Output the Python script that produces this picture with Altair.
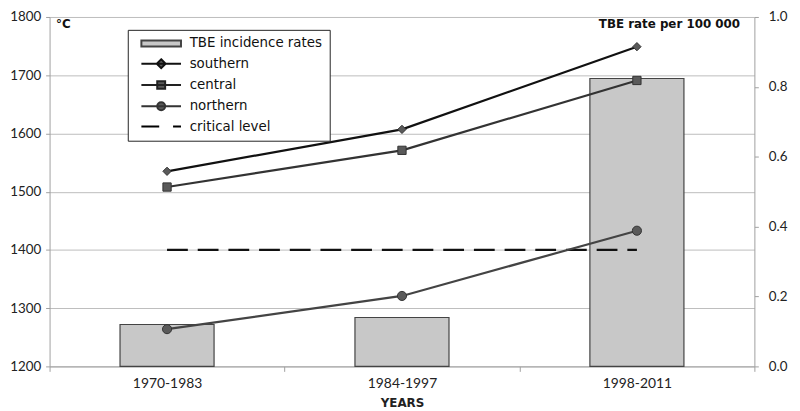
import altair as alt
import pandas as pd

periods = ["1970-1983", "1984-1997", "1998-2011"]
tbe_rate = [0.12, 0.14, 0.824]
southern = [1535, 1607, 1749]
central = [1508, 1571, 1691]
northern = [1264, 1321, 1433]
critical = [1400, 1400, 1400]
legend_items = ["TBE incidence rates", "southern", "central", "northern", "critical level"]
left_ticks = [1200, 1300, 1400, 1500, 1600, 1700, 1800]
right_ticks = [0.0, 0.2, 0.4, 0.6, 0.8, 1.0]

legend_paths = [
    "M-1,-0.6H7V0.6H-1Z",
    "M-1,0H7M3,-0.9L3.9,0L3,0.9L2.1,0Z",
    "M-1,0H7M2.2,-0.75H3.8V0.75H2.2Z",
    "M-1,0H7M3.8,0A0.8,0.8,0,1,1,2.2,0A0.8,0.8,0,1,1,3.8,0Z",
    "M-1,0H2.6M5.4,0H7",
]
legend_fills = ["#c8c8c8", "#5a5a5a", "#5a5a5a", "#5a5a5a", "#000000"]
legend_strokes = ["#444444", "#111111", "#222222", "#333333", "#000000"]

bars_df = pd.DataFrame({"period": periods, "rate": tbe_rate})
south_df = pd.DataFrame({"period": periods, "value": southern})
central_df = pd.DataFrame({"period": periods, "value": central})
north_df = pd.DataFrame({"period": periods, "value": northern})
crit_df = pd.DataFrame({"period": periods, "value": critical})
leg_df = pd.DataFrame({"item": legend_items, "period": [periods[0]] * 5, "value": [1400] * 5})

x_enc = alt.X(
    "period:N",
    sort=periods,
    scale=alt.Scale(paddingInner=0, paddingOuter=0),
    axis=alt.Axis(
        title="YEARS", labelAngle=0, tickBand="extent", labelFont="Lato", labelFontSize=14,
        labelColor="#222", titleFont="DejaVu Sans", titleFontSize=12, titleFontWeight="bold",
        titleColor="#222", tickSize=5, labelPadding=5, titlePadding=8, domainColor="#a0a0a0",
        tickColor="#a0a0a0", grid=False,
    ),
)

y_left = alt.Y(
    "value:Q",
    scale=alt.Scale(domain=[1200, 1800], nice=False, zero=False),
    axis=alt.Axis(
        orient="left", values=left_ticks, format="d", grid=True, gridColor="#bdbdbd",
        title="°C", titleAngle=0, titleX=6, titleY=7, titleAlign="left", titleBaseline="middle",
        titleFont="DejaVu Sans", titleFontSize=12, titleFontWeight="bold", titleColor="#111",
        labelFont="Lato", labelFontSize=13.5, labelColor="#222", tickSize=4, labelPadding=5,
        domainColor="#a0a0a0", tickColor="#a0a0a0",
    ),
)

bars = alt.Chart(bars_df).mark_bar(size=95, fill="#c8c8c8", stroke="#444444", strokeWidth=1.2).encode(
    x=x_enc,
    y=alt.Y(
        "rate:Q",
        scale=alt.Scale(domain=[0, 1], nice=False),
        axis=alt.Axis(
            orient="right", values=right_ticks, format=".1f", grid=False,
            title="TBE rate per 100 000", titleAngle=0, titleX=-15, titleY=7, titleAlign="right",
            titleBaseline="middle", titleFont="DejaVu Sans", titleFontSize=12, titleFontWeight="bold",
            titleColor="#111", labelFont="Lato", labelFontSize=13.5, labelColor="#222", tickSize=4,
            labelPadding=10, domainColor="#a0a0a0", tickColor="#a0a0a0",
        ),
    ),
)

crit = alt.Chart(crit_df).mark_line(color="#111111", strokeWidth=2.2, strokeDash=[21, 10]).encode(x=x_enc, y=y_left)


def series(df, color, shape, size):
    line = alt.Chart(df).mark_line(color=color, strokeWidth=2.2).encode(x=x_enc, y=y_left)
    pts = alt.Chart(df).mark_point(
        shape=shape, size=size, filled=True, fill="#5a5a5a", stroke="#333333", strokeWidth=1, opacity=1
    ).encode(x=x_enc, y=y_left)
    return [line, pts]


legend_layer = alt.Chart(leg_df).mark_point(filled=True, opacity=0, size=100, strokeWidth=2).encode(
    x=x_enc,
    y=y_left,
    shape=alt.Shape("item:N", sort=legend_items, scale=alt.Scale(domain=legend_items, range=legend_paths), title=None),
    fill=alt.Fill("item:N", sort=legend_items, scale=alt.Scale(domain=legend_items, range=legend_fills), title=None),
    stroke=alt.Stroke("item:N", sort=legend_items, scale=alt.Scale(domain=legend_items, range=legend_strokes), title=None),
)

lines = alt.layer(
    crit,
    *series(south_df, "#111111", "diamond", 70),
    *series(central_df, "#333333", "square", 70),
    *series(north_df, "#444444", "circle", 85),
    legend_layer,
)

chart = alt.layer(bars, lines).resolve_scale(y="independent").properties(
    width=712,
    height=353,
    padding={"left": 42, "top": 7, "right": 38, "bottom": 45},
    autosize=alt.AutoSizeParams(type="none"),
).configure_view(stroke=None).configure_legend(
    orient="none", legendX=79, legendY=13, strokeColor="#222", fillColor="white", padding=7,
    symbolOffset=5, symbolSize=100, symbolOpacity=1, symbolStrokeColor="#222", symbolStrokeWidth=2,
    labelOffset=37, labelFont="DejaVu Sans", labelFontSize=13.5, labelColor="#111", rowPadding=4.5,
    cornerRadius=0,
)

chart.save("out.html", embed_options={"renderer": "svg", "actions": False})
